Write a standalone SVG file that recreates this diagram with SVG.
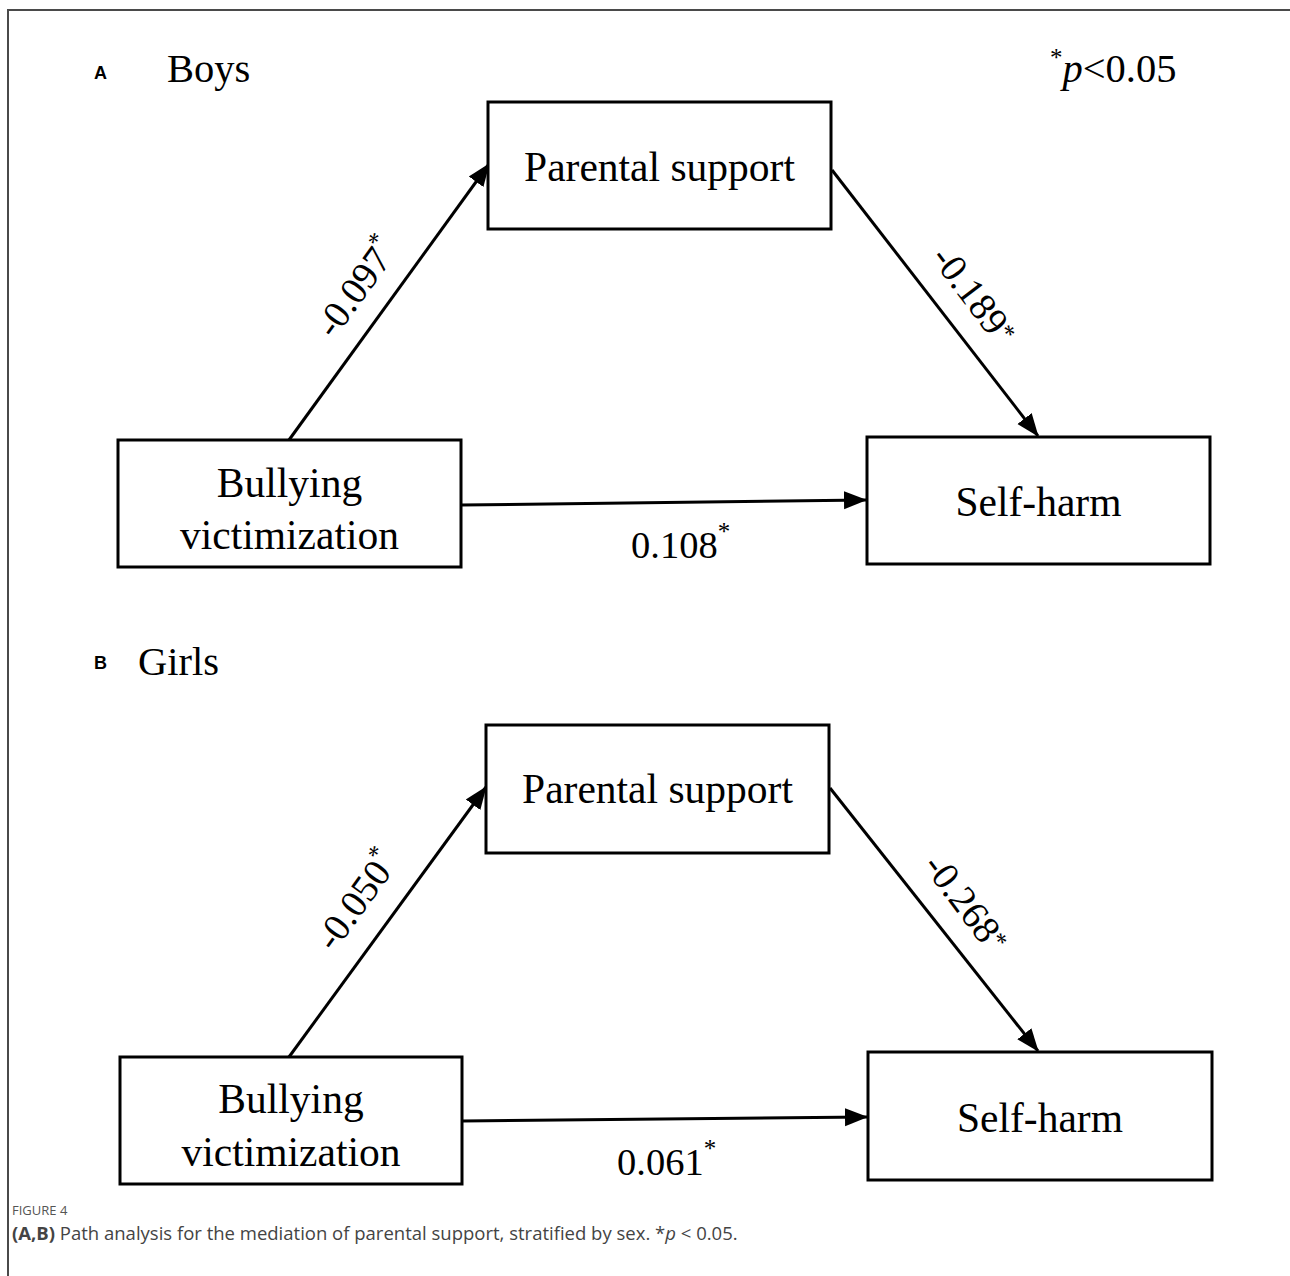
<svg xmlns="http://www.w3.org/2000/svg" width="1290" height="1276" viewBox="0 0 1290 1276">
<style>
.bg{fill:#ffffff}
.frame{fill:none;stroke:#4a4a4a;stroke-width:2}
.box{fill:#ffffff;stroke:#000000;stroke-width:3}
.lbl{font-family:"Liberation Serif","Times New Roman",serif;font-size:41.5px;fill:#000000}
.num{font-family:"Liberation Serif","Times New Roman",serif;font-size:38.5px;fill:#000000}
.star{font-size:25px}
.panel{font-family:"Liberation Sans",Arial,sans-serif;font-weight:bold;font-size:18px;fill:#000000}
.title{font-family:"Liberation Serif","Times New Roman",serif;font-size:40.5px;fill:#000000}
.edge{fill:none;stroke:#000000;stroke-width:3;marker-end:url(#arr)}
.figno{font-family:"Open Sans","Liberation Sans",sans-serif;font-size:13px;fill:#555555}
.cap{font-family:"Open Sans","Liberation Sans",sans-serif;font-size:18.5px;fill:#444444}
</style>
<defs>
<marker id="arr" markerUnits="userSpaceOnUse" markerWidth="24" markerHeight="20" viewBox="0 0 24 20" refX="22" refY="10" orient="auto">
<path d="M0,1 L23,10 L0,19 Z" fill="#000000"/>
</marker>
</defs>
<rect class="bg" x="0" y="0" width="1290" height="1276"/>
<path class="frame" d="M8,1276 L8,10 L1290,10"/>

<g id="panelA-labels">
<text class="panel" x="94" y="79">A</text>
<text class="title" x="167" y="82">Boys</text>
<text class="title" x="1050" y="82"><tspan class="star" dy="-16">*</tspan><tspan font-style="italic" dy="16">p</tspan>&lt;0.05</text>
</g>

<g id="edges">
<line class="edge" x1="289" y1="440" x2="489" y2="164"/>
<line class="edge" x1="832" y1="170" x2="1038" y2="436"/>
<line class="edge" x1="461" y1="505" x2="866" y2="500"/>
<line class="edge" x1="289" y1="1057" x2="486" y2="787"/>
<line class="edge" x1="830" y1="788" x2="1038" y2="1051"/>
<line class="edge" x1="462" y1="1121" x2="867" y2="1117"/>
</g>

<g id="edge-labels">
<text class="num" transform="translate(334,340) rotate(-54)">-0.097<tspan class="star" dy="-16">*</tspan></text>
<text class="num" transform="translate(930,258) rotate(53)">-0.189<tspan class="star" dy="-8">*</tspan></text>
<text class="num" x="631" y="558">0.108<tspan class="star" dy="-18">*</tspan></text>
<text class="num" transform="translate(334,953) rotate(-54)">-0.050<tspan class="star" dy="-16">*</tspan></text>
<text class="num" transform="translate(922,866) rotate(53)">-0.268<tspan class="star" dy="-8">*</tspan></text>
<text class="num" x="617" y="1175">0.061<tspan class="star" dy="-18">*</tspan></text>
</g>

<g id="A-parental">
<rect class="box" x="488" y="102" width="343" height="127"/>
<text class="lbl" x="659.5" y="181" text-anchor="middle">Parental support</text>
</g>
<g id="A-bullying">
<rect class="box" x="118" y="440" width="343" height="127"/>
<text class="lbl" x="289.5" y="497" text-anchor="middle">Bullying</text>
<text class="lbl" x="289.5" y="549" text-anchor="middle">victimization</text>
</g>
<g id="A-selfharm">
<rect class="box" x="867" y="437" width="343" height="127"/>
<text class="lbl" x="1038.5" y="516" text-anchor="middle">Self-harm</text>
</g>

<g id="panelB-labels">
<text class="panel" x="94" y="669">B</text>
<text class="title" x="138" y="675">Girls</text>
</g>

<g id="B-parental">
<rect class="box" x="486" y="725" width="343" height="128"/>
<text class="lbl" x="657.5" y="803" text-anchor="middle">Parental support</text>
</g>
<g id="B-bullying">
<rect class="box" x="120" y="1057" width="342" height="127"/>
<text class="lbl" x="291" y="1113" text-anchor="middle">Bullying</text>
<text class="lbl" x="291" y="1166" text-anchor="middle">victimization</text>
</g>
<g id="B-selfharm">
<rect class="box" x="868" y="1052" width="344" height="128"/>
<text class="lbl" x="1040" y="1132" text-anchor="middle">Self-harm</text>
</g>

<g id="caption">
<text class="figno" x="12" y="1215">FIGURE 4</text>
<text class="cap" x="12" y="1240"><tspan font-weight="bold">(A,B)</tspan> Path analysis for the mediation of parental support, stratified by sex. *<tspan font-style="italic">p</tspan> &lt; 0.05.</text>
</g>
</svg>
